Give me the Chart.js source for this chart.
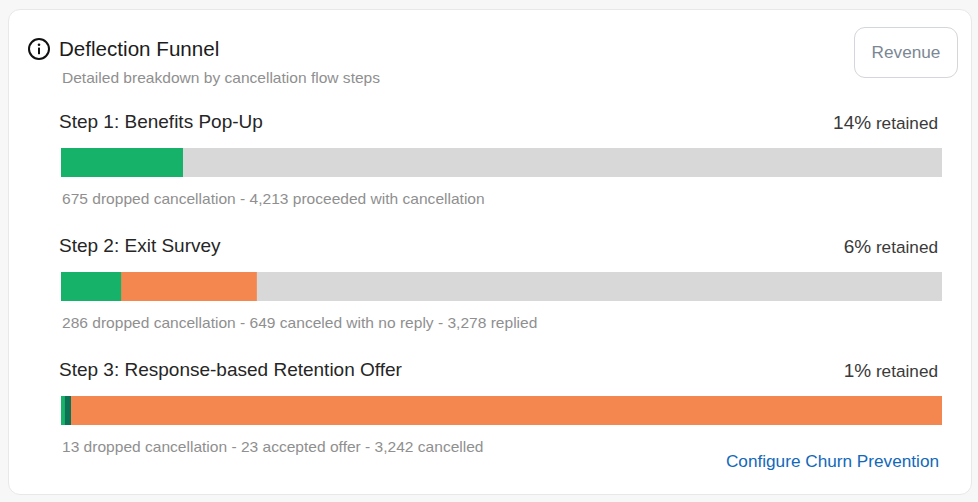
<!DOCTYPE html>
<html>
<head>
<meta charset="utf-8">
<title>Deflection Funnel</title>
<script src="https://cdn.jsdelivr.net/npm/chart.js@4"></script>
<style>
    html, body { margin: 0; padding: 0; background: #f7f7f7; }
    body { width: 978px; height: 502px; overflow: hidden; position: relative; font-family: "Liberation Sans", Arial, sans-serif; }
    #card { position: absolute; left: 8px; top: 9px; width: 962px; height: 484px; background: #fff; border: 1px solid #e8e8e8; border-radius: 12px; }
    .txt { position: absolute; white-space: nowrap; line-height: 20px; }
    .title { left: 59px; top: 39px; font-size: 20.6px; color: #1c1c1c; }
    .sub, .caption { left: 62px; font-size: 15.56px; color: #8f8f8f; }
    .sub { top: 68px; }
    .stepTitle { left: 59px; font-size: 19px; color: #262626; }
    .retained { right: 40px; font-size: 17.2px; color: #3a3a3a; }
    .retained b { font-weight: normal; font-size: 19px; }
    #revenue { position: absolute; left: 854px; top: 27px; width: 102px; height: 49px; line-height: 48px; text-align: center; box-sizing: content-box; border: 1px solid #d3d6da; border-radius: 11px; font-size: 17.2px; color: #7b8794; background: #fff; }
    #configure { right: 39px; top: 451px; font-size: 17.2px; color: #1268b9; text-decoration: none; }
    canvas { position: absolute; left: 61px; width: 881px; height: 29px; }
</style>
</head>
<body>
<div id="card"></div>
<svg style="position:absolute;left:27px;top:37px" width="24" height="24" viewBox="0 0 24 24">
    <circle cx="12" cy="12" r="10" fill="none" stroke="#111" stroke-width="2"/>
    <circle cx="12" cy="7.8" r="1.3" fill="#111"/>
    <rect x="11" y="10.6" width="2" height="6.6" fill="#111"/>
</svg>
<div class="txt title">Deflection Funnel</div>
<div class="txt sub">Detailed breakdown by cancellation flow steps</div>
<div id="revenue">Revenue</div>
<a class="txt" id="configure" href="#">Configure Churn Prevention</a>
<div id="steps"></div>

<script>
const stepTitles = ['Step 1: Benefits Pop-Up', 'Step 2: Exit Survey', 'Step 3: Response-based Retention Offer'];
const retainedPct = ['14%', '6%', '1%'];
const captions = [
    '675 dropped cancellation - 4,213 proceeded with cancellation',
    '286 dropped cancellation - 649 canceled with no reply - 3,278 replied',
    '13 dropped cancellation - 23 accepted offer - 3,242 cancelled'
];

// segments of each bar, left to right
const step1Values = [675, 4213];
const step2Values = [286, 649, 3278];
const step3Values = [13, 23, 3242];

const green = '#17b26a';
const darkGreen = '#0b7253';
const orange = '#f4874f';
const gray = '#d8d8d8';

const step1Colors = [green, gray];
const step2Colors = [green, orange, gray];
const step3Colors = [green, darkGreen, orange];

const allValues = [step1Values, step2Values, step3Values];
const allColors = [step1Colors, step2Colors, step3Colors];

const steps = document.getElementById('steps');

function addText(cls, top, html) {
    const el = document.createElement('div');
    el.className = 'txt ' + cls;
    el.style.top = top + 'px';
    el.innerHTML = html;
    steps.appendChild(el);
}

function drawBar(top, values, colors) {
    const canvas = document.createElement('canvas');
    canvas.width = 881;
    canvas.height = 29;
    canvas.style.top = top + 'px';
    steps.appendChild(canvas);

    new Chart(canvas.getContext('2d'), {
        type: 'bar',
        data: {
            labels: [''],
            datasets: values.map((v, i) => ({
                data: [v],
                backgroundColor: colors[i],
                borderWidth: 0,
                barPercentage: 1,
                categoryPercentage: 1
            }))
        },
        options: {
            indexAxis: 'y',
            responsive: false,
            animation: false,
            plugins: { legend: { display: false }, tooltip: { enabled: false } },
            scales: {
                x: { display: false, stacked: true, min: 0, max: values.reduce((a, b) => a + b, 0) },
                y: { display: false, stacked: true }
            }
        }
    });
}

stepTitles.forEach((name, i) => {
    const y = 124 * i;
    addText('stepTitle', 112 + y, name);
    addText('retained', 113 + y, '<b>' + retainedPct[i] + '</b> retained');
    drawBar(148 + y, allValues[i], allColors[i]);
    addText('caption', 189 + y, captions[i]);
});
</script>
</body>
</html>
